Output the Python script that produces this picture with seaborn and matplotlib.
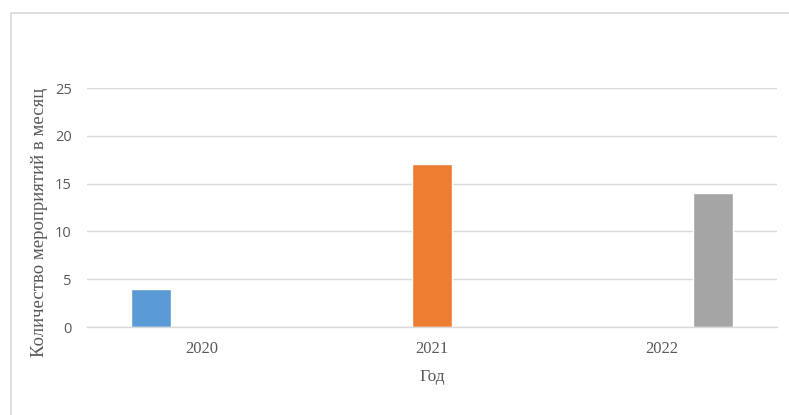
import pandas as pd
import matplotlib.pyplot as plt
import seaborn as sns
from matplotlib.lines import Line2D

# ===============================
# DATA
# ===============================
years = ['2020', '2021', '2022']
events = [4, 17, 14]
colors = ['#5B9BD5', '#ED7D31', '#A5A5A5']
y_ticks = [0, 5, 10, 15, 20, 25]

df = pd.DataFrame({'year': years, 'series': years, 'value': events})

# ===============================
# PLOT
# ===============================
sns.set_style('white')
plt.rcParams['font.family'] = ['Liberation Serif', 'DejaVu Serif']

fig = plt.figure(figsize=(7.89, 4.15), dpi=100)
ax = fig.add_axes([87 / 789, 1 - 327 / 415, 690 / 789, 239 / 415])

sns.barplot(
    data=df, x='year', y='value', hue='series',
    order=years, hue_order=years, palette=colors, saturation=1,
    dodge=True, width=0.66, gap=0.21, legend=False, ax=ax
)

ax.set_ylim(0, 25)
ax.set_yticks(y_ticks)
ax.set_yticklabels([str(t) for t in y_ticks], family=['Open Sans', 'DejaVu Sans'],
                   fontsize=10.5, color='#595959')
for lbl in ax.get_xticklabels():
    lbl.set_fontsize(12)
    lbl.set_color('#595959')
ax.tick_params(axis='x', length=0, pad=10)
ax.tick_params(axis='y', length=0, pad=11)
ax.yaxis.grid(True, color='#d9d9d9', linewidth=1)
ax.set_axisbelow(True)
for side in ['top', 'right', 'left']:
    ax.spines[side].set_visible(False)
ax.spines['bottom'].set_color('#d9d9d9')
ax.spines['bottom'].set_linewidth(1)

ax.set_xlabel('Год', fontsize=12.5, color='#595959', labelpad=9)
ax.set_ylabel('Количество мероприятий в месяц', fontsize=13.5, color='#595959')
ax.yaxis.set_label_coords(-0.056, 0.44)

# chart frame
fx0, fy0 = 11 / 789, 1 - 13 / 415
fig.add_artist(Line2D([fx0, 1.0], [fy0, fy0], transform=fig.transFigure, color='#d9d9d9', lw=1.2))
fig.add_artist(Line2D([fx0, fx0], [0.0, fy0], transform=fig.transFigure, color='#d9d9d9', lw=1.2))

fig.savefig('out.png', dpi=100)
